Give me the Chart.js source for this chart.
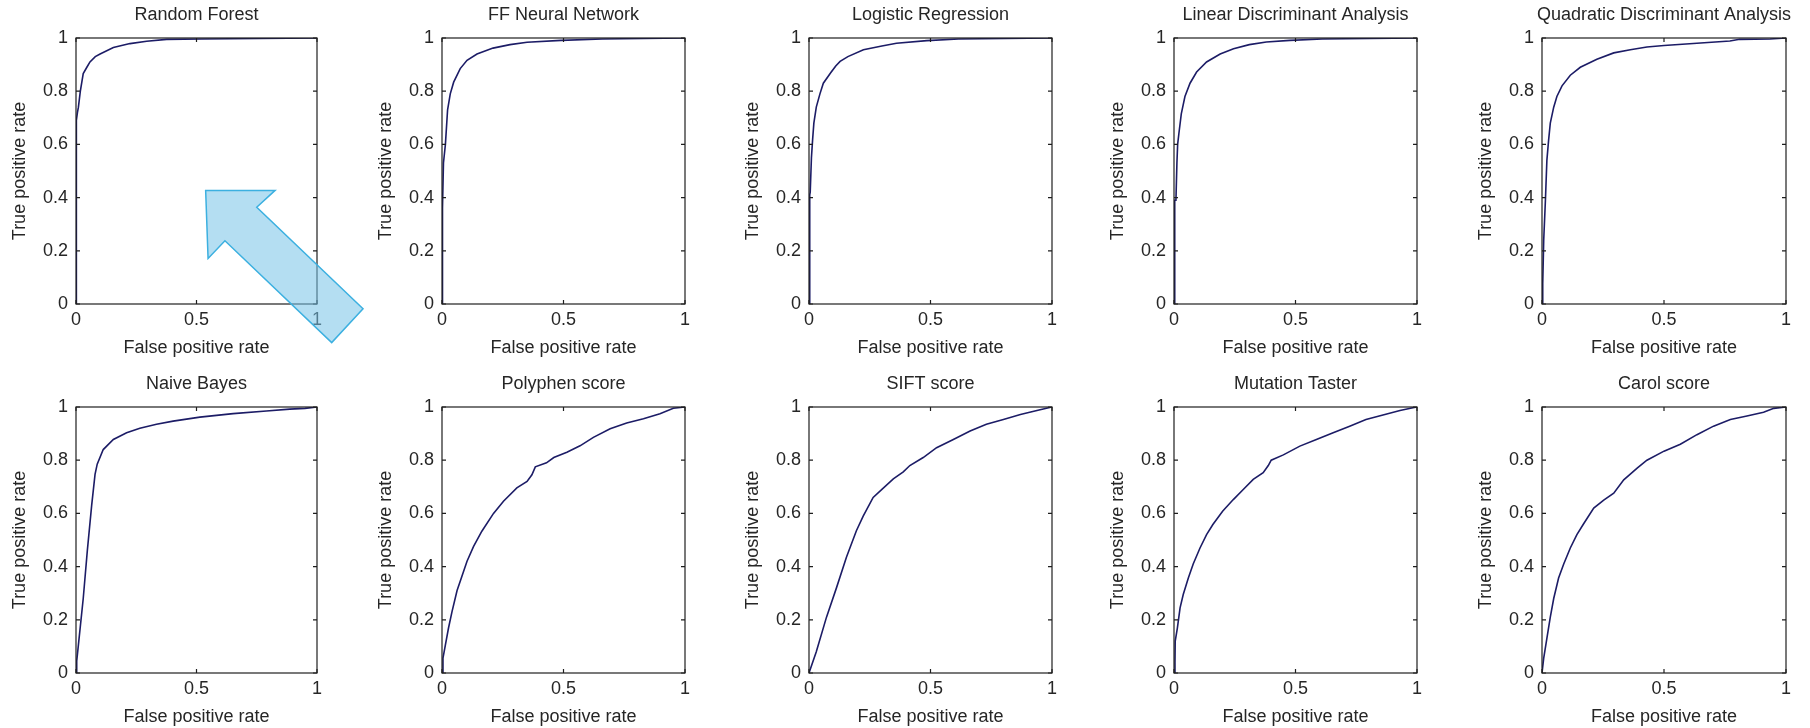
<!DOCTYPE html>
<html>
<head>
<meta charset="utf-8">
<script src="https://cdn.jsdelivr.net/npm/chart.js@4.4.1/dist/chart.umd.min.js"></script>
<style>
  html, body { margin: 0; padding: 0; background: #ffffff; }
  #wrap { position: relative; width: 1810px; height: 728px; overflow: hidden; background: #fff; }
  canvas { position: absolute; }
</style>
</head>
<body>
<div id="wrap"></div>
<script>
// ---------- data ----------
const titles = [
  'Random Forest', 'FF Neural Network', 'Logistic Regression',
  'Linear Discriminant Analysis', 'Quadratic Discriminant Analysis',
  'Naive Bayes', 'Polyphen score', 'SIFT score', 'Mutation Taster', 'Carol score'
];
const xTickValues = [0, 0.5, 1];
const yTickValues = [0, 0.2, 0.4, 0.6, 0.8, 1];
const xAxisLabel = 'False positive rate';
const yAxisLabel = 'True positive rate';

const rfFpr = [0, 0, 0.003, 0.006, 0.01, 0.018, 0.03, 0.045, 0.058, 0.08, 0.1, 0.155, 0.224, 0.293, 0.376, 0.52, 1];
const rfTpr = [0, 0.65, 0.69, 0.72, 0.74, 0.8, 0.866, 0.89, 0.91, 0.93, 0.94, 0.964, 0.979, 0.988, 0.995, 0.996, 1];

const nnFpr = [0, 0, 0.004, 0.006, 0.014, 0.023, 0.034, 0.048, 0.075, 0.103, 0.144, 0.21, 0.28, 0.35, 0.49, 0.66, 1];
const nnTpr = [0, 0.36, 0.36, 0.53, 0.6, 0.73, 0.79, 0.834, 0.885, 0.916, 0.94, 0.962, 0.975, 0.984, 0.991, 0.996, 1];

const lrFpr = [0, 0.003, 0.005, 0.01, 0.015, 0.02, 0.03, 0.045, 0.059, 0.09, 0.11, 0.128, 0.16, 0.224, 0.3, 0.36, 0.485, 0.615, 1];
const lrTpr = [0, 0.41, 0.42, 0.55, 0.62, 0.68, 0.74, 0.79, 0.83, 0.87, 0.895, 0.912, 0.93, 0.956, 0.97, 0.98, 0.99, 0.996, 1];

const ldaFpr = [0, 0.003, 0.008, 0.012, 0.015, 0.02, 0.03, 0.045, 0.066, 0.093, 0.134, 0.19, 0.245, 0.31, 0.38, 0.477, 0.61, 1];
const ldaTpr = [0, 0.39, 0.39, 0.53, 0.6, 0.64, 0.715, 0.78, 0.83, 0.872, 0.91, 0.94, 0.96, 0.975, 0.985, 0.991, 0.996, 1];

const qdaFpr = [0, 0.003, 0.007, 0.014, 0.02, 0.027, 0.034, 0.048, 0.061, 0.082, 0.116, 0.157, 0.225, 0.294, 0.362, 0.43, 0.5, 0.635, 0.77, 0.81, 0.935, 1];
const qdaTpr = [0, 0.075, 0.24, 0.39, 0.54, 0.615, 0.68, 0.74, 0.78, 0.82, 0.86, 0.89, 0.92, 0.944, 0.956, 0.966, 0.972, 0.98, 0.989, 0.995, 0.996, 1];

const nbFpr = [0, 0.003, 0.01, 0.03, 0.047, 0.065, 0.079, 0.088, 0.113, 0.155, 0.21, 0.265, 0.334, 0.403, 0.514, 0.652, 0.79, 0.887, 0.95, 1];
const nbTpr = [0, 0.045, 0.106, 0.28, 0.46, 0.63, 0.747, 0.785, 0.84, 0.878, 0.903, 0.92, 0.935, 0.947, 0.962, 0.975, 0.985, 0.992, 0.995, 1];

const polyFpr = [0, 0.004, 0.014, 0.027, 0.041, 0.062, 0.082, 0.103, 0.13, 0.164, 0.212, 0.253, 0.308, 0.35, 0.37, 0.384, 0.43, 0.46, 0.514, 0.568, 0.623, 0.692, 0.76, 0.829, 0.897, 0.952, 1];
const polyTpr = [0, 0.056, 0.106, 0.17, 0.23, 0.31, 0.364, 0.42, 0.476, 0.533, 0.6, 0.646, 0.696, 0.72, 0.745, 0.775, 0.79, 0.81, 0.83, 0.854, 0.886, 0.918, 0.94, 0.956, 0.975, 0.995, 1];

const siftFpr = [0, 0.03, 0.072, 0.113, 0.154, 0.195, 0.223, 0.264, 0.3, 0.347, 0.388, 0.415, 0.47, 0.525, 0.594, 0.663, 0.73, 0.8, 0.87, 0.938, 0.986, 1];
const siftTpr = [0, 0.08, 0.21, 0.32, 0.435, 0.535, 0.59, 0.66, 0.69, 0.73, 0.756, 0.78, 0.81, 0.847, 0.878, 0.91, 0.935, 0.953, 0.972, 0.987, 0.997, 1];

const mtFpr = [0, 0.004, 0.005, 0.014, 0.025, 0.038, 0.059, 0.079, 0.107, 0.134, 0.16, 0.2, 0.244, 0.285, 0.326, 0.367, 0.388, 0.4, 0.45, 0.518, 0.586, 0.655, 0.723, 0.79, 0.86, 0.93, 0.983, 1];
const mtTpr = [0, 0.04, 0.12, 0.17, 0.245, 0.295, 0.357, 0.41, 0.47, 0.52, 0.558, 0.608, 0.652, 0.69, 0.728, 0.753, 0.78, 0.8, 0.82, 0.853, 0.878, 0.903, 0.928, 0.953, 0.97, 0.987, 0.997, 1];

const carolFpr = [0, 0.007, 0.02, 0.034, 0.048, 0.068, 0.089, 0.116, 0.143, 0.17, 0.212, 0.253, 0.294, 0.335, 0.39, 0.43, 0.5, 0.567, 0.635, 0.703, 0.772, 0.84, 0.908, 0.95, 1];
const carolTpr = [0, 0.056, 0.13, 0.21, 0.28, 0.357, 0.41, 0.47, 0.52, 0.56, 0.62, 0.65, 0.676, 0.726, 0.77, 0.8, 0.834, 0.86, 0.896, 0.928, 0.953, 0.966, 0.98, 0.995, 1];

// arrow annotation in panel 1 (data coordinates of that panel)
const arrowX = [0.538, 0.826, 0.750, 1.191, 1.061, 0.618, 0.548];
const arrowY = [0.427, 0.427, 0.364, -0.018, -0.145, 0.238, 0.171];

const series = [
  [rfFpr, rfTpr], [nnFpr, nnTpr], [lrFpr, lrTpr], [ldaFpr, ldaTpr], [qdaFpr, qdaTpr],
  [nbFpr, nbTpr], [polyFpr, polyTpr], [siftFpr, siftTpr], [mtFpr, mtTpr], [carolFpr, carolTpr]
];

// ---------- layout ----------
const boxLefts = [76, 442, 809, 1174, 1542];
const boxWidths = [241, 243, 243, 243, 244];
const boxTops = [38, 407];
const boxHeight = 266;
const PAD_L = 76, PAD_T = 38, PAD_B = 60, PAD_R = 76;
const FONT = "'Liberation Sans', Arial, Helvetica, sans-serif";
const TXT = '#262626';
const LINE = '#1c1c66';

const framePlugin = {
  id: 'frame',
  afterDraw(chart) {
    const { ctx, chartArea: a, scales } = chart;
    ctx.save();
    ctx.strokeStyle = '#1e1e1e';
    ctx.lineWidth = 1.2;
    ctx.strokeRect(a.left, a.top, a.right - a.left, a.bottom - a.top);
    const tl = 4;
    ctx.beginPath();
    xTickValues.forEach(v => {
      const px = scales.x.getPixelForValue(v);
      ctx.moveTo(px, a.bottom); ctx.lineTo(px, a.bottom - tl);
      ctx.moveTo(px, a.top); ctx.lineTo(px, a.top + tl);
    });
    yTickValues.forEach(v => {
      const py = scales.y.getPixelForValue(v);
      ctx.moveTo(a.left, py); ctx.lineTo(a.left + tl, py);
      ctx.moveTo(a.right, py); ctx.lineTo(a.right - tl, py);
    });
    ctx.stroke();
    ctx.restore();
  }
};

const arrowPlugin = {
  id: 'arrow',
  afterDraw(chart, args, opts) {
    if (!opts || !opts.show) return;
    const { ctx, scales } = chart;
    ctx.save();
    ctx.beginPath();
    arrowX.forEach((vx, i) => {
      const px = scales.x.getPixelForValue(vx);
      const py = scales.y.getPixelForValue(arrowY[i]);
      if (i === 0) ctx.moveTo(px, py); else ctx.lineTo(px, py);
    });
    ctx.closePath();
    ctx.fillStyle = 'rgba(119,195,231,0.55)';
    ctx.fill();
    ctx.strokeStyle = '#3cb0e0';
    ctx.lineWidth = 1.5;
    ctx.lineJoin = 'miter';
    ctx.stroke();
    ctx.restore();
  }
};

const wrap = document.getElementById('wrap');
titles.forEach((title, idx) => {
  const col = idx % 5, row = Math.floor(idx / 5);
  const isFirst = idx === 0;
  const W = PAD_L + boxWidths[col] + PAD_R;
  const H = PAD_T + boxHeight + PAD_B;
  const cv = document.createElement('canvas');
  cv.width = W; cv.height = H;
  cv.style.width = W + 'px'; cv.style.height = H + 'px';
  cv.style.left = (boxLefts[col] - PAD_L) + 'px';
  cv.style.top = (boxTops[row] - PAD_T) + 'px';
  cv.style.zIndex = isFirst ? 5 : 1;
  wrap.appendChild(cv);

  const [fx, ty] = series[idx];
  const pts = fx.map((v, i) => ({ x: v, y: ty[i] }));

  new Chart(cv, {
    type: 'scatter',
    data: {
      datasets: [{
        data: pts,
        showLine: true,
        borderColor: LINE,
        borderWidth: 1.6,
        pointRadius: 0,
        pointHoverRadius: 0,
        tension: 0,
        fill: false
      }]
    },
    options: {
      responsive: false,
      animation: false,
      devicePixelRatio: 1,
      layout: { padding: 0 },
      plugins: {
        legend: { display: false },
        tooltip: { enabled: false },
        title: {
          display: true,
          text: title,
          color: TXT,
          font: { family: FONT, size: 18, weight: 'normal', lineHeight: 1.2 },
          padding: { top: 4.5, bottom: 11.9 }
        },
        arrow: { show: isFirst }
      },
      scales: {
        x: {
          type: 'linear', position: 'bottom', min: 0, max: 1,
          afterBuildTicks: s => { s.ticks = xTickValues.map(v => ({ value: v })); },
          afterFit: s => { s.height = PAD_B; },
          grid: { display: false, drawTicks: false, tickLength: 0 },
          border: { display: false },
          ticks: {
            color: TXT, padding: 5, maxRotation: 0, autoSkip: false,
            font: { family: FONT, size: 18, lineHeight: 1.2 },
            callback: v => String(v)
          },
          title: {
            display: true, text: xAxisLabel, color: TXT,
            font: { family: FONT, size: 18, lineHeight: 1.2 },
            padding: { top: 0, bottom: 5 }
          }
        },
        y: {
          type: 'linear', position: 'left', min: 0, max: 1,
          afterBuildTicks: s => { s.ticks = yTickValues.map(v => ({ value: v })); },
          afterFit: s => { s.width = PAD_L; },
          grid: { display: false, drawTicks: false, tickLength: 0 },
          border: { display: false },
          ticks: {
            color: TXT, padding: 8, autoSkip: false,
            font: { family: FONT, size: 18, lineHeight: 1.2 },
            callback: v => String(v)
          },
          title: {
            display: true, text: yAxisLabel, color: TXT,
            font: { family: FONT, size: 18, lineHeight: 1.2 },
            padding: { top: 9, bottom: 0 }
          }
        },
        yRightSpace: {
          type: 'linear', position: 'right', min: 0, max: 1,
          afterFit: s => { s.width = PAD_R; },
          grid: { display: false, drawTicks: false, tickLength: 0 },
          border: { display: false },
          ticks: { display: false },
          title: { display: false }
        }
      }
    },
    plugins: [framePlugin, arrowPlugin]
  });
});
</script>
</body>
</html>
